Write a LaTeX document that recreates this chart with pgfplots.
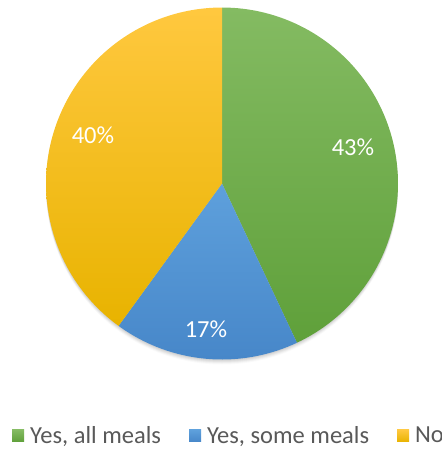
\documentclass[border=0pt]{standalone}
\usepackage{pgfplots}
\usepackage{pgfplotstable}
\pgfplotsset{compat=1.18}
\usepackage{fontspec}
\setmainfont{Carlito}

\definecolor{txtgray}{HTML}{595959}
\definecolor{gTop}{HTML}{84BB62}
\definecolor{gBot}{HTML}{5FA03A}
\definecolor{bTop}{HTML}{5EA0DC}
\definecolor{bBot}{HTML}{4787C9}
\definecolor{yTop}{HTML}{FFC83F}
\definecolor{yBot}{HTML}{E8B300}

% share of answers, percent
\pgfplotstableread{
share
43
17
40
}\piedata

\pgfplotstablegetelem{0}{share}\of\piedata \let\sA\pgfplotsretval
\pgfplotstablegetelem{1}{share}\of\piedata \let\sB\pgfplotsretval
\pgfplotstablegetelem{2}{share}\of\piedata \let\sC\pgfplotsretval
% slices run clockwise from 12 o'clock
\pgfmathsetmacro\aA{90}
\pgfmathsetmacro\aB{\aA-3.6*\sA}
\pgfmathsetmacro\aC{\aB-3.6*\sB}
\pgfmathsetmacro\aD{\aC-3.6*\sC}

\begin{document}
\begin{tikzpicture}
\path[use as bounding box] (0,0) rectangle (442pt,-451pt);
% soft shadow under the pie
\fill[black, opacity=0.05] (222pt,-184.5pt) circle[radius=176pt];
\fill[black, opacity=0.05] (222pt,-185.5pt) circle[radius=176pt];
\fill[black, opacity=0.04] (222pt,-186.5pt) circle[radius=176pt];
\fill[black, opacity=0.03] (222pt,-187.5pt) circle[radius=176pt];
\fill[black, opacity=0.02] (222pt,-188.5pt) circle[radius=176pt];
\begin{axis}[
    at={(222pt,-183.5pt)}, anchor=center,
    scale only axis, width=352pt, height=352pt,
    xmin=-1, xmax=1, ymin=-1, ymax=1,
    hide axis, clip=false,
    legend columns=3,
    legend style={draw=none, fill=none, inner sep=0pt,
        at={(axis description cs:-0.0966,-0.217)}, anchor=west,
        font=\fontsize{24.5}{28}\selectfont, text=txtgray,
        nodes={inner sep=0pt},
        /tikz/every odd column/.append style={column sep=6pt},
        /tikz/every even column/.append style={column sep=28pt}},
    legend image code/.code={\fill[#1] (0pt,-6pt) rectangle (12pt,6pt);},
]
\addplot[draw=none, top color=gTop, bottom color=gBot, domain=\aB:\aA, samples=90]
    ({cos(x)},{sin(x)}) -- (axis cs:0,0) -- cycle;
\addlegendentry{Yes, all meals}
\addplot[draw=none, top color=bTop, bottom color=bBot, domain=\aC:\aB, samples=40]
    ({cos(x)},{sin(x)}) -- (axis cs:0,0) -- cycle;
\addlegendentry{Yes, some meals}
\addplot[draw=none, top color=yTop, bottom color=yBot, domain=\aD:\aC, samples=90]
    ({cos(x)},{sin(x)}) -- (axis cs:0,0) -- cycle;
\addlegendentry{No}

\node[text=white, font=\fontsize{24.5}{28}\selectfont] at (axis cs:0.744,0.207) {\sA\%};
\node[text=white, font=\fontsize{24.5}{28}\selectfont] at (axis cs:-0.091,-0.827) {\sB\%};
\node[text=white, font=\fontsize{24.5}{28}\selectfont] at (axis cs:-0.733,0.273) {\sC\%};
\end{axis}
\end{tikzpicture}
\end{document}
